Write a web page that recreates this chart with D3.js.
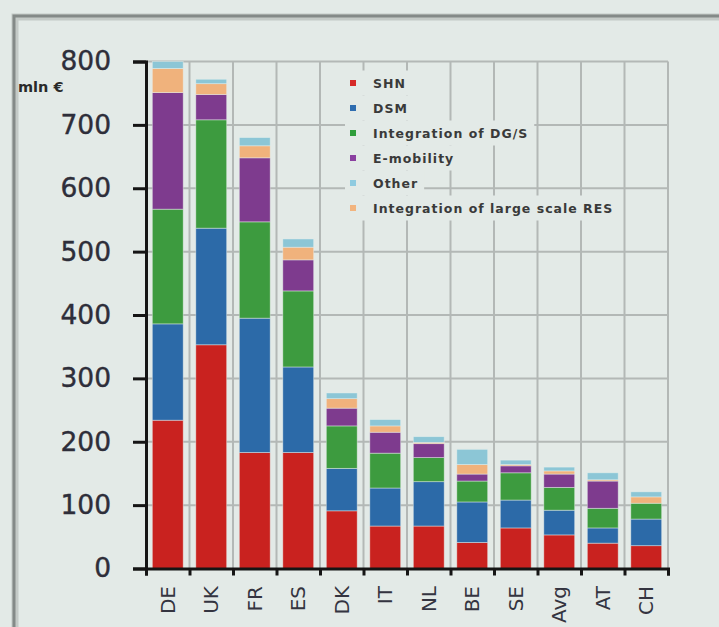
<!DOCTYPE html>
<html>
<head>
<meta charset="utf-8">
<script src="https://cdn.jsdelivr.net/npm/d3@7"></script>
<style>
  html, body { margin: 0; padding: 0; background: #e3eae7; }
  svg { display: block; }
</style>
</head>
<body>
<svg id="chart" width="719" height="627"></svg>
<script>
// Smart-grid investment by country, stacked by category (mln €)
const countries = ["DE", "UK", "FR", "ES", "DK", "IT", "NL", "BE", "SE", "Avg", "AT", "CH"];
const shn      = [234, 353, 183, 183, 91, 67, 67, 41, 64, 53, 40, 36];
const dsm      = [152, 184, 212, 135, 67, 60, 70, 64, 44, 39, 24, 42];
const dgs      = [181, 171, 152, 120, 67, 55, 38, 33, 43, 36, 31, 25];
const emob     = [184, 40, 101, 49, 28, 33, 22, 11, 11, 21, 43, 0];
const largeRes = [38, 17, 19, 20, 15, 10, 2, 15, 2, 5, 2, 10];
const other    = [11, 7, 13, 13, 9, 10, 9, 24, 7, 6, 11, 8];

const yTicks = [0, 100, 200, 300, 400, 500, 600, 700, 800];
const unitLabel = "mln €";

// stacking order (bottom to top)
const stackKeys = ["SHN", "DSM", "DGS", "EMOB", "RES", "OTHER"];
const seriesValues = { SHN: shn, DSM: dsm, DGS: dgs, EMOB: emob, RES: largeRes, OTHER: other };
const barColor = {
  SHN: "#c9221f", DSM: "#2c6aa8", DGS: "#3d9b3f",
  EMOB: "#7e3b8e", RES: "#f0b27c", OTHER: "#8cc6d6"
};

// legend order
const legendItems = [
  { key: "SHN",   label: "SHN",                              color: "#d62a28" },
  { key: "DSM",   label: "DSM",                              color: "#2e6db0" },
  { key: "DGS",   label: "Integration of DG/S",              color: "#2f9e3b" },
  { key: "EMOB",  label: "E-mobility",                       color: "#8a40a0" },
  { key: "OTHER", label: "Other",                            color: "#8fcbe0" },
  { key: "RES",   label: "Integration of large scale RES",   color: "#f2b47e" }
];

const rows = countries.map((c, i) => {
  const r = { country: c };
  stackKeys.forEach(k => { r[k] = seriesValues[k][i]; });
  return r;
});

const svg = d3.select("#chart");
const W = 719, H = 627;
const plot = { left: 146, right: 668, top: 61.5, bottom: 568.5 };

// page frame
svg.append("rect").attr("x", 0).attr("y", 0).attr("width", W).attr("height", H).attr("fill", "#e3eae7");
svg.append("path")
  .attr("d", `M15,${H} L15,17 L${W},17`)
  .attr("fill", "none").attr("stroke", "#c4cac7").attr("stroke-width", 7);
svg.append("path")
  .attr("d", `M14,${H} L14,16 L${W},16`)
  .attr("fill", "none").attr("stroke", "#848a88").attr("stroke-width", 3);

const x = d3.scaleBand()
  .domain(countries)
  .range([plot.left, plot.right])
  .paddingInner(0.29)
  .paddingOuter(0.145);

const xEdge = d3.scaleLinear().domain([0, countries.length]).range([plot.left, plot.right]);

const y = d3.scaleLinear().domain([0, 800]).range([plot.bottom, plot.top]);

// grid
const grid = svg.append("g").attr("stroke", "#b3b8b6").attr("stroke-width", 2);
grid.selectAll("line.h").data(yTicks.slice(1)).join("line")
  .attr("class", "h")
  .attr("x1", plot.left).attr("x2", plot.right)
  .attr("y1", d => y(d)).attr("y2", d => y(d));
grid.selectAll("line.v").data(d3.range(1, countries.length + 1)).join("line")
  .attr("class", "v")
  .attr("x1", d => xEdge(d)).attr("x2", d => xEdge(d))
  .attr("y1", plot.top).attr("y2", plot.bottom);

// stacked bars
const stacked = d3.stack().keys(stackKeys)(rows);
svg.append("g").selectAll("g").data(stacked).join("g")
  .attr("fill", s => barColor[s.key])
  .selectAll("rect").data(s => s).join("rect")
  .attr("x", d => x(d.data.country))
  .attr("width", x.bandwidth())
  .attr("y", d => y(d[1]))
  .attr("height", d => Math.max(0, y(d[0]) - y(d[1])))
  .attr("stroke", "rgba(235,242,239,0.55)")
  .attr("stroke-width", 0.8);

// legend
const legend = svg.append("g");
const legendFont = "bold 12.5px 'DejaVu Sans', Verdana, sans-serif";
legendItems.forEach((it, i) => {
  const cy = 83 + i * 25;
  const row = legend.append("g");
  const bg = row.append("rect").attr("fill", "#e3eae7");
  row.append("rect")
    .attr("x", 350).attr("y", cy - 3).attr("width", 6).attr("height", 6)
    .attr("fill", it.color);
  const t = row.append("text")
    .attr("x", 373).attr("y", cy)
    .attr("dominant-baseline", "central")
    .style("font", legendFont)
    .style("letter-spacing", "1px")
    .attr("fill", "#3a3a3a")
    .text(it.label);
  const w = t.node().getComputedTextLength();
  bg.attr("x", 345).attr("y", cy - 12.5).attr("width", 373 - 345 + w + 6).attr("height", 25);
});

// y axis
const yAxis = d3.axisLeft(y).tickValues(yTicks).tickSize(13).tickSizeOuter(13).tickPadding(22);
const gy = svg.append("g").attr("transform", `translate(${plot.left},0)`).call(yAxis);
gy.select(".domain").attr("stroke", "#151515").attr("stroke-width", 3);
gy.selectAll(".tick line").attr("stroke", "#151515").attr("stroke-width", 3);
gy.selectAll(".tick text")
  .style("font-family", "'DejaVu Sans', Verdana, sans-serif")
  .style("font-size", "26.5px")
  .attr("fill", "#2e2e3a")
  .attr("stroke", "#2e2e3a")
  .attr("stroke-width", 0.4);

svg.append("text")
  .attr("x", 18).attr("y", 87)
  .attr("dominant-baseline", "central")
  .style("font", "bold 14.5px 'DejaVu Sans', Verdana, sans-serif")
  .attr("fill", "#2a2a2a")
  .text(unitLabel);

// x axis: ticks on category boundaries
const xAxis = d3.axisBottom(xEdge).ticks(countries.length).tickSize(7).tickSizeOuter(7).tickFormat("");
const gx = svg.append("g").attr("transform", `translate(0,${plot.bottom})`).call(xAxis);
gx.select(".domain").attr("stroke", "#151515").attr("stroke-width", 3);
gx.selectAll(".tick line").attr("stroke", "#151515").attr("stroke-width", 3);

svg.append("g").selectAll("text").data(countries).join("text")
  .attr("transform", d => `translate(${x(d) + x.bandwidth() / 2},586) rotate(-90)`)
  .attr("text-anchor", "end")
  .attr("dominant-baseline", "central")
  .style("font-family", "'DejaVu Sans', Verdana, sans-serif")
  .style("font-size", "20px")
  .attr("fill", "#343440")
  .text(d => d);
</script>
</body>
</html>
